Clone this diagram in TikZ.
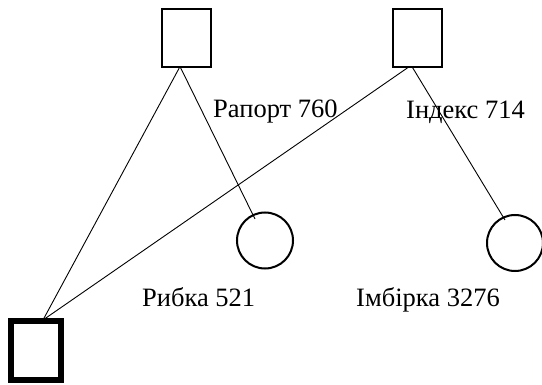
\documentclass[tikz,border=0pt]{standalone}
\usepackage{fontspec}
\setmainfont{Liberation Serif}
\usetikzlibrary{calc}
\begin{document}
\begin{tikzpicture}[x=1pt,y=-1pt,
  sq/.style={draw, line width=2pt, minimum width=49pt, minimum height=58pt, inner sep=0pt, outer sep=0pt},
  thicksq/.style={draw, line width=6pt, minimum width=50pt, minimum height=59pt, inner sep=0pt, outer sep=0pt},
  circ/.style={draw, circle, line width=2pt, minimum size=56pt, inner sep=0pt, outer sep=0pt},
  lbl/.style={inner sep=0pt, anchor=base west, font=\fontsize{26.5}{31}\selectfont},
  link/.style={line width=0.9pt}]
\useasboundingbox (0,0) rectangle (542,385);
\fill[white] (0,0) rectangle (542,385);
\node[sq] (s1) at (186.5,38.5) {};
\node[sq] (s2) at (417.5,38.5) {};
\node[thicksq] (s3) at (36,350.5) {};
\node[circ] (c1) at (265,240.5) {};
\node[circ] (c2) at (515,243) {};
\coordinate (s1a) at ($(s1.south)+(-7,0)$);
\coordinate (s1b) at ($(s1.south)+(-6,0)$);
\coordinate (s2a) at ($(s2.south)+(-9.5,0)$);
\coordinate (s2b) at ($(s2.south)+(-5,0)$);
\coordinate (apex) at ($(s3.north)+(7,-1)$);
\coordinate (c1e) at ($(c1.center)+(-10,-21.5)$);
\coordinate (c2e) at ($(c2.center)+(-10,-23)$);
\draw[link] (s1a) -- (apex);
\draw[link] (s1b) -- (c1e);
\draw[link] (s2a) -- (apex);
\draw[link] (s2b) -- (c2e);
\node[lbl] (l1) at (213,118) {Рапорт 760};
\node[lbl] (l2) at (406,119) {Індекс 714};
\node[lbl] (l3) at (142,307) {Рибка 521};
\node[lbl] (l4) at (356,307) {Імбірка 3276};
\end{tikzpicture}
\end{document}
